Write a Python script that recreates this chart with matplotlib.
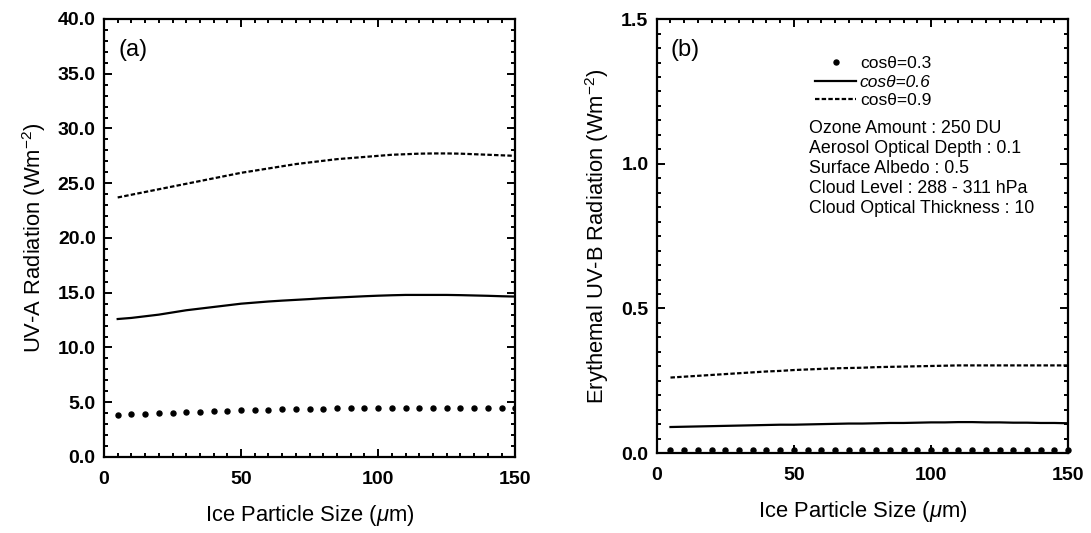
import matplotlib
matplotlib.use("Agg")
import matplotlib.pyplot as plt
from matplotlib.lines import Line2D
from matplotlib.ticker import MultipleLocator, FormatStrFormatter

plt.rcParams['font.family'] = ['Liberation Sans', 'DejaVu Sans']
plt.rcParams['mathtext.fontset'] = 'custom'
plt.rcParams['mathtext.rm'] = 'Liberation Sans'
plt.rcParams['mathtext.it'] = 'Liberation Sans:italic'

# ice particle size (um)
size = [5, 10, 15, 20, 25, 30, 35, 40, 45, 50, 55, 60, 65, 70, 75,
        80, 85, 90, 95, 100, 105, 110, 115, 120, 125, 130, 135, 140, 145, 150]

# (a) UV-A radiation (W m-2)
uva_03 = [3.85, 3.90, 3.95, 4.00, 4.05, 4.10, 4.15, 4.20, 4.24, 4.27,
          4.30, 4.33, 4.36, 4.38, 4.40, 4.42, 4.44, 4.45, 4.46, 4.47,
          4.48, 4.49, 4.50, 4.50, 4.50, 4.50, 4.50, 4.50, 4.50, 4.50]
uva_06 = [12.60, 12.70, 12.85, 13.00, 13.20, 13.40, 13.55, 13.70, 13.85, 14.00,
          14.10, 14.20, 14.28, 14.35, 14.42, 14.50, 14.56, 14.62, 14.68, 14.73,
          14.77, 14.80, 14.80, 14.80, 14.80, 14.78, 14.75, 14.72, 14.68, 14.65]
uva_09 = [23.70, 23.95, 24.20, 24.45, 24.70, 24.95, 25.20, 25.45, 25.70, 25.95,
          26.15, 26.35, 26.55, 26.75, 26.90, 27.05, 27.20, 27.30, 27.40, 27.50,
          27.60, 27.65, 27.70, 27.72, 27.72, 27.70, 27.65, 27.60, 27.55, 27.50]

# (b) erythemal UV-B radiation (W m-2)
uvb_03 = [0.011, 0.011, 0.011, 0.011, 0.011, 0.012, 0.012, 0.012, 0.012, 0.012,
          0.012, 0.012, 0.012, 0.012, 0.012, 0.012, 0.012, 0.012, 0.012, 0.012,
          0.012, 0.012, 0.012, 0.012, 0.012, 0.012, 0.012, 0.012, 0.012, 0.012]
uvb_06 = [0.090, 0.091, 0.092, 0.093, 0.094, 0.095, 0.096, 0.097, 0.098, 0.098,
          0.099, 0.100, 0.101, 0.102, 0.102, 0.103, 0.104, 0.104, 0.105, 0.106,
          0.106, 0.107, 0.107, 0.106, 0.106, 0.105, 0.105, 0.104, 0.104, 0.103]
uvb_09 = [0.261, 0.264, 0.267, 0.270, 0.273, 0.276, 0.279, 0.282, 0.284, 0.287,
          0.289, 0.291, 0.293, 0.294, 0.295, 0.297, 0.298, 0.299, 0.300, 0.301,
          0.302, 0.303, 0.303, 0.303, 0.303, 0.303, 0.303, 0.303, 0.303, 0.303]

legend_labels = ['cos\u03b8=0.3', 'cos\u03b8=0.6', 'cos\u03b8=0.9']
info_lines = ['Ozone Amount : 250 DU',
              'Aerosol Optical Depth : 0.1',
              'Surface Albedo : 0.5',
              'Cloud Level : 288 - 311 hPa',
              'Cloud Optical Thickness : 10']

dot_kw = dict(linestyle='none', marker='o', markersize=3.6, color='black')
solid_kw = dict(linestyle='-', linewidth=1.6, color='black')
dash_kw = dict(linestyle=(0, (2, 1)), linewidth=1.6, color='black')

fig = plt.figure(figsize=(10.91, 5.33), dpi=100)
ax1 = fig.add_axes([0.0953, 0.1426, 0.377, 0.8218])
ax2 = fig.add_axes([0.602, 0.15, 0.377, 0.814])


def style_axis(ax, ymax, ymajor, yminor):
    ax.set_xlim(0, 150)
    ax.set_ylim(0, ymax)
    ax.xaxis.set_major_locator(MultipleLocator(50))
    ax.xaxis.set_minor_locator(MultipleLocator(5))
    ax.yaxis.set_major_locator(MultipleLocator(ymajor))
    ax.yaxis.set_minor_locator(MultipleLocator(yminor))
    ax.yaxis.set_major_formatter(FormatStrFormatter('%.1f'))
    ax.tick_params(which='both', direction='in', top=True, right=True, width=1.4)
    ax.tick_params(which='major', length=5.5)
    ax.tick_params(which='minor', length=3.2)
    ax.tick_params(axis='x', which='major', pad=10)
    ax.tick_params(axis='y', which='major', pad=6)
    for lab in ax.get_xticklabels() + ax.get_yticklabels():
        lab.set_fontweight('bold')
        lab.set_fontsize(14)
    for sp in ax.spines.values():
        sp.set_linewidth(1.6)
    ax.set_xlabel(r'Ice Particle Size ($\mu$m)', fontsize=15.8, labelpad=11)


ax1.plot(size, uva_03, **dot_kw)
ax1.plot(size, uva_06, **solid_kw)
ax1.plot(size, uva_09, **dash_kw)
style_axis(ax1, 40, 5, 1)
ax1.set_ylabel(r'UV-A Radiation (Wm$^{-2}$)', fontsize=15.8, labelpad=7)
ax1.text(0.036, 0.93, '(a)', transform=ax1.transAxes, fontsize=17, va='center', ha='left')

ax2.plot(size, uvb_03, clip_on=False, **dot_kw)
ax2.plot(size, uvb_06, **solid_kw)
ax2.plot(size, uvb_09, **dash_kw)
style_axis(ax2, 1.5, 0.5, 0.05)
ax2.set_ylabel(r'Erythemal UV-B Radiation (Wm$^{-2}$)', fontsize=15.8, labelpad=7)
ax2.text(0.034, 0.93, '(b)', transform=ax2.transAxes, fontsize=17, va='center', ha='left')

handles = [Line2D([], [], **dot_kw), Line2D([], [], **solid_kw), Line2D([], [], **dash_kw)]
leg = ax2.legend(handles, legend_labels, loc='upper left', bbox_to_anchor=(0.384, 0.915),
                 frameon=False, fontsize=12.5, handlelength=2.4, handletextpad=0.2,
                 labelspacing=0.2, borderpad=0, borderaxespad=0)
leg.get_texts()[1].set_fontstyle('italic')

for i, line in enumerate(info_lines):
    ax2.text(0.37, 0.737 - i * 0.046, line, transform=ax2.transAxes,
             fontsize=12.8, va='baseline', ha='left')

fig.savefig('out.png', dpi=100)
